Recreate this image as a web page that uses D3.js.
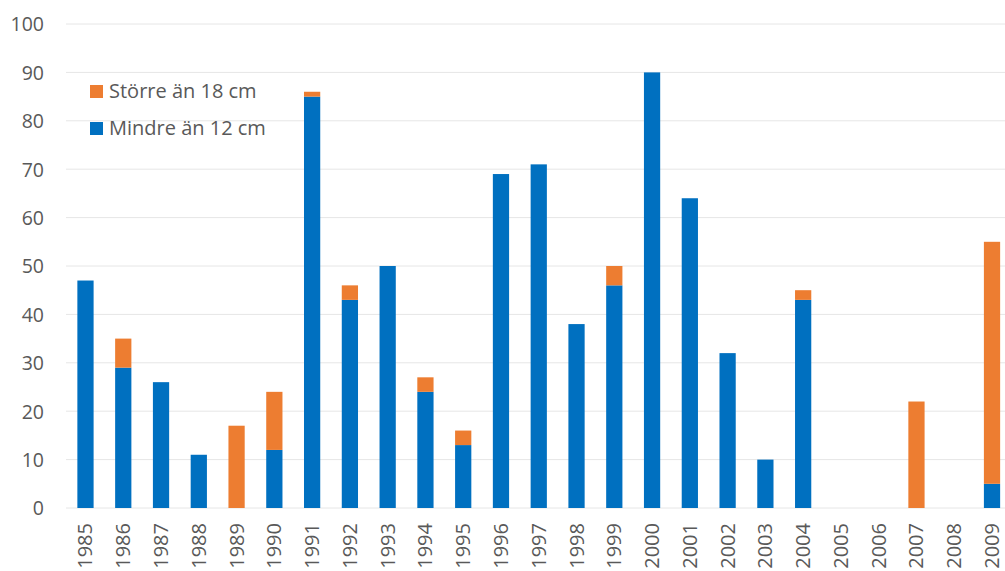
<!DOCTYPE html>
<html>
<head>
<meta charset="utf-8">
<script src="https://cdn.jsdelivr.net/npm/d3@7"></script>
<style>
  body { margin: 0; background: #fff; }
  svg text { font-family: "Open Sans", "Noto Sans", sans-serif; fill: #595959; }
</style>
</head>
<body>
<div id="chart"></div>
<script>
let years = ['1985','1986','1987','1988','1989','1990','1991','1992','1993','1994','1995','1996','1997','1998','1999','2000','2001','2002','2003','2004','2005','2006','2007','2008','2009']
let small = [47, 29, 26, 11, 0, 12, 85, 43, 50, 24, 13, 69, 71, 38, 46, 90, 64, 32, 10, 43, 0, 0, 0, 0, 5]
let large = [0, 6, 0, 0, 17, 12, 1, 3, 0, 3, 3, 0, 0, 0, 4, 0, 0, 0, 0, 2, 0, 0, 22, 0, 50]
let yTicks = [0, 10, 20, 30, 40, 50, 60, 70, 80, 90, 100]
let seriesNames = ['Större än 18 cm', 'Mindre än 12 cm']
let colors = { small: '#0070c0', large: '#ed7d31' }

let W = 1005
let H = 571

let svg = d3.select('#chart')
	.append('svg')
	.attr('width', W)
	.attr('height', H)

let x = d3.scaleBand()
	.domain(years)
	.range([66.6, 1010.9])
	.paddingInner(0.57)
	.paddingOuter(0.285)

let y = d3.scaleLinear()
	.domain([0, 100])
	.range([508, 24])

// gridlines
svg.append('g')
	.selectAll('line')
	.data(yTicks)
	.join('line')
	.attr('x1', 66)
	.attr('x2', W)
	.attr('y1', d => y(d))
	.attr('y2', d => y(d))
	.attr('stroke', '#e6e6e6')
	.attr('stroke-width', 1)

// y axis labels
let yAxis = svg.append('g')
	.attr('transform', 'translate(44,0)')
	.call(d3.axisLeft(y).tickValues(yTicks).tickSize(0).tickPadding(0))
yAxis.select('.domain').remove()
yAxis.selectAll('text')
	.attr('font-size', 19.5)
	.attr('dy', '0.35em')
	.style('font-family', '"Open Sans", "Noto Sans", sans-serif')
	.attr('fill', '#595959')

// stacked bars
let rows = years.map((yr, i) => ({ year: yr, small: small[i], large: large[i] }))
let stack = d3.stack().keys(['small', 'large'])(rows)

svg.append('g')
	.selectAll('g')
	.data(stack)
	.join('g')
	.attr('fill', d => colors[d.key])
	.selectAll('rect')
	.data(d => d)
	.join('rect')
	.attr('x', d => x(d.data.year))
	.attr('width', x.bandwidth())
	.attr('y', d => y(d[1]))
	.attr('height', d => y(d[0]) - y(d[1]))

// x axis labels
let xAxis = svg.append('g')
	.attr('transform', 'translate(0,' + 523 + ')')
	.call(d3.axisBottom(x).tickSize(0).tickPadding(0))
xAxis.select('.domain').remove()
xAxis.selectAll('text')
	.attr('font-size', 20)
	.attr('transform', 'rotate(-90)')
	.attr('text-anchor', 'end')
	.attr('x', 0)
	.attr('y', 0)
	.attr('dy', '0.35em')
	.style('font-family', '"Open Sans", "Noto Sans", sans-serif')
	.attr('fill', '#595959')

// legend
let legend = svg.append('g')
	.attr('transform', 'translate(90,85)')
let legendColors = [colors.large, colors.small]
seriesNames.forEach((name, i) => {
	let g = legend.append('g').attr('transform', `translate(0,${i * 37})`)
	g.append('rect')
		.attr('width', 13)
		.attr('height', 13)
		.attr('fill', legendColors[i])
	g.append('text')
		.attr('x', 19)
		.attr('y', 13)
		.attr('font-size', 20)
		.text(name)
})
</script>
</body>
</html>
